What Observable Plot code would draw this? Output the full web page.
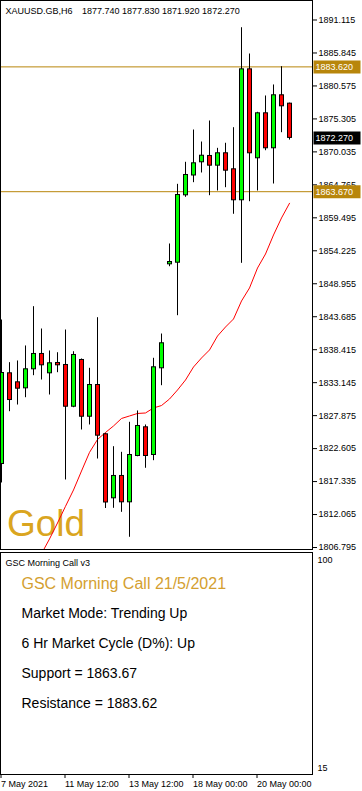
<!DOCTYPE html>
<html><head><meta charset="utf-8">
<script src="https://cdn.jsdelivr.net/npm/d3@7"></script>
<script src="https://cdn.jsdelivr.net/npm/@observablehq/plot@0.6"></script>
<style>
html,body{margin:0;padding:0;background:#fff;}
#chart svg{display:block;}
</style></head><body><div id="chart"></div>
<script>
// ---- data ----
const symbolText = "XAUUSD.GB,H6";
const ohlcText = "1877.740 1877.830 1871.920 1872.270";
const open  = [1820.14,1834.64,1833.20,1832.24,1835.28,1837.73,1834.64,1836.29,1835.97,1829.30,1836.77,1827.70,1832.77,1824.89,1814.66,1818.23,1814.02,1821.42,1826.01,1821.58,1835.44,1852.06,1852.32,1863.09,1866.26,1868.37,1869.38,1867.83,1869.81,1867.25,1862.30,1883.23,1869.01,1876.20,1870.61,1879.08,1877.74];
const high  = [1843.16,1836.34,1836.61,1839.01,1845.29,1841.72,1838.21,1837.93,1841.56,1838.09,1836.93,1835.44,1843.53,1825.05,1822.91,1822.01,1826.81,1828.62,1826.38,1837.04,1840.92,1855.31,1864.85,1868.37,1873.53,1871.61,1874.97,1870.60,1871.41,1873.90,1889.88,1885.68,1876.36,1878.97,1880.73,1883.65,1877.83];
const low   = [1817.11,1828.50,1829.57,1830.74,1834.26,1833.57,1831.17,1834.74,1817.59,1829.14,1825.58,1826.38,1820.94,1813.03,1813.06,1812.42,1808.43,1821.30,1819.46,1820.67,1832.66,1851.68,1843.85,1862.77,1865.11,1866.66,1863.03,1863.78,1864.31,1860.06,1852.22,1862.07,1863.78,1870.22,1864.90,1873.10,1871.92];
const close = [1834.69,1830.37,1832.18,1835.28,1837.73,1835.92,1836.24,1835.92,1829.30,1837.57,1827.70,1832.77,1824.67,1813.99,1818.23,1814.02,1821.58,1826.22,1821.42,1835.60,1839.44,1852.43,1863.14,1866.34,1868.21,1869.42,1867.83,1869.81,1867.03,1862.30,1883.23,1869.81,1876.20,1870.61,1879.08,1877.32,1872.27];
const ma    = [null,null,null,null,1803.52,1805.80,1808.16,1810.71,1813.38,1815.99,1819.02,1822.00,1824.06,1825.18,1826.22,1827.42,1827.82,1828.22,1828.30,1829.10,1829.49,1830.53,1831.97,1833.57,1835.65,1837.09,1838.37,1840.60,1842.04,1843.32,1846.20,1848.28,1851.47,1853.71,1856.75,1859.47,1861.82];
const yTicks = [1891.115,1885.845,1880.575,1875.305,1870.035,1864.765,1859.495,1854.225,1848.955,1843.685,1838.415,1833.145,1827.875,1822.605,1817.335,1812.065,1806.795];
const support = 1863.67;
const resistance = 1883.62;
const xTickIndex = [0,8,16,24,32];
const xTickLabels = ["7 May 2021","11 May 12:00","13 May 12:00","18 May 00:00","20 May 00:00"];
const panelTicks = [100,15];
const watermark = "Gold";
const indicatorName = "GSC Morning Call v3";
const panelTitle = "GSC Morning Call 21/5/2021";
const panelLines = ["Market Mode: Trending Up","6 Hr Market Cycle (D%): Up","Support = 1863.67","Resistance = 1883.62"];

// ---- build ----
const candles = open.map((o, i) => ({i, open: o, high: high[i], low: low[i], close: close[i], ma: ma[i]}));
const lastClose = close[close.length - 1];
const font = "'Liberation Sans', Arial, sans-serif";
const GOLDLINE = "#B8860B";
const xOpts = {type: "linear", domain: [-0.125, 38.875], axis: null};
const labelBox = {draw(context) { context.rect(1, -6.5, 47, 13); }};

const main = Plot.plot({
  width: 362, height: 551,
  marginLeft: 0, marginRight: 50, marginTop: 0, marginBottom: 2,
  style: {fontFamily: font, fontSize: "9px", color: "#000", background: "#fff", overflow: "visible"},
  x: xOpts,
  y: {domain: [1806.476, 1894.232], axis: null},
  color: {type: "identity"},
  marks: [
    Plot.ruleY([support, resistance], {stroke: GOLDLINE}),
    Plot.text([watermark], {frameAnchor: "bottom-left", lineAnchor: "bottom", dx: 6.5, dy: -14, fontSize: 37, fill: "#DAA520"}),
    Plot.line(candles, {x: "i", y: "ma", stroke: "#FF0000", strokeWidth: 1, clip: true}),
    Plot.ruleX(candles, {x: "i", y1: "low", y2: "high", stroke: "#000", clip: true}),
    Plot.rect(candles, {x1: d => d.i - 0.25, x2: d => d.i + 0.25, y1: "open", y2: "close",
      fill: d => d.close >= d.open ? "#00FF00" : "#FF0000", stroke: "#000", dx: 0.5, clip: true}),
    Plot.axisY(yTicks, {anchor: "right", tickSize: 4, tickPadding: 2, tickFormat: d => d.toFixed(3), fill: "#000"}),
    Plot.dot([resistance, support], {y: d => d, frameAnchor: "right", symbol: labelBox, fill: GOLDLINE, stroke: null}),
    Plot.dot([lastClose], {y: d => d, frameAnchor: "right", symbol: labelBox, fill: "#000", stroke: null}),
    Plot.text([resistance, support, lastClose], {y: d => d, frameAnchor: "right", text: d => d.toFixed(3), textAnchor: "start", dx: 3, fill: "#fff"}),
    Plot.text([symbolText], {frameAnchor: "top-left", lineAnchor: "bottom", dx: 5, dy: 13.5, fill: "#000"}),
    Plot.text([ohlcText], {frameAnchor: "top-left", lineAnchor: "bottom", dx: 81.5, dy: 13.5, fill: "#000"}),
    Plot.frame({stroke: "#000"})
  ]
});

const panel = Plot.plot({
  width: 362, height: 240,
  marginLeft: 0, marginRight: 50, marginTop: 1, marginBottom: 17,
  style: {fontFamily: font, fontSize: "9px", color: "#000", background: "#fff", overflow: "visible"},
  x: xOpts,
  y: {domain: [12.42, 103.27], axis: null},
  marks: [
    Plot.axisY(panelTicks, {anchor: "right", tickSize: 0, tickPadding: 5, fill: "#000"}),
    Plot.axisX(xTickIndex, {anchor: "bottom", tickSize: 4, tickPadding: 2, textAnchor: "start", dx: -0.5,
      tickFormat: d => xTickLabels[xTickIndex.indexOf(d)], fill: "#000"}),
    Plot.text([indicatorName], {frameAnchor: "top-left", lineAnchor: "bottom", dx: 5, dy: 13, fill: "#000"}),
    Plot.text([panelTitle], {frameAnchor: "top-left", lineAnchor: "bottom", dx: 21, dy: 36.7, fontSize: 16, fill: "#D4A030"}),
    Plot.text([panelLines.join("\n")], {frameAnchor: "top-left", lineAnchor: "bottom", dx: 21, dy: 155, fontSize: 14, lineHeight: 30 / 14, fill: "#000"}),
    Plot.frame({stroke: "#000"})
  ]
});

document.getElementById("chart").append(main, panel);
</script>
</body></html>
